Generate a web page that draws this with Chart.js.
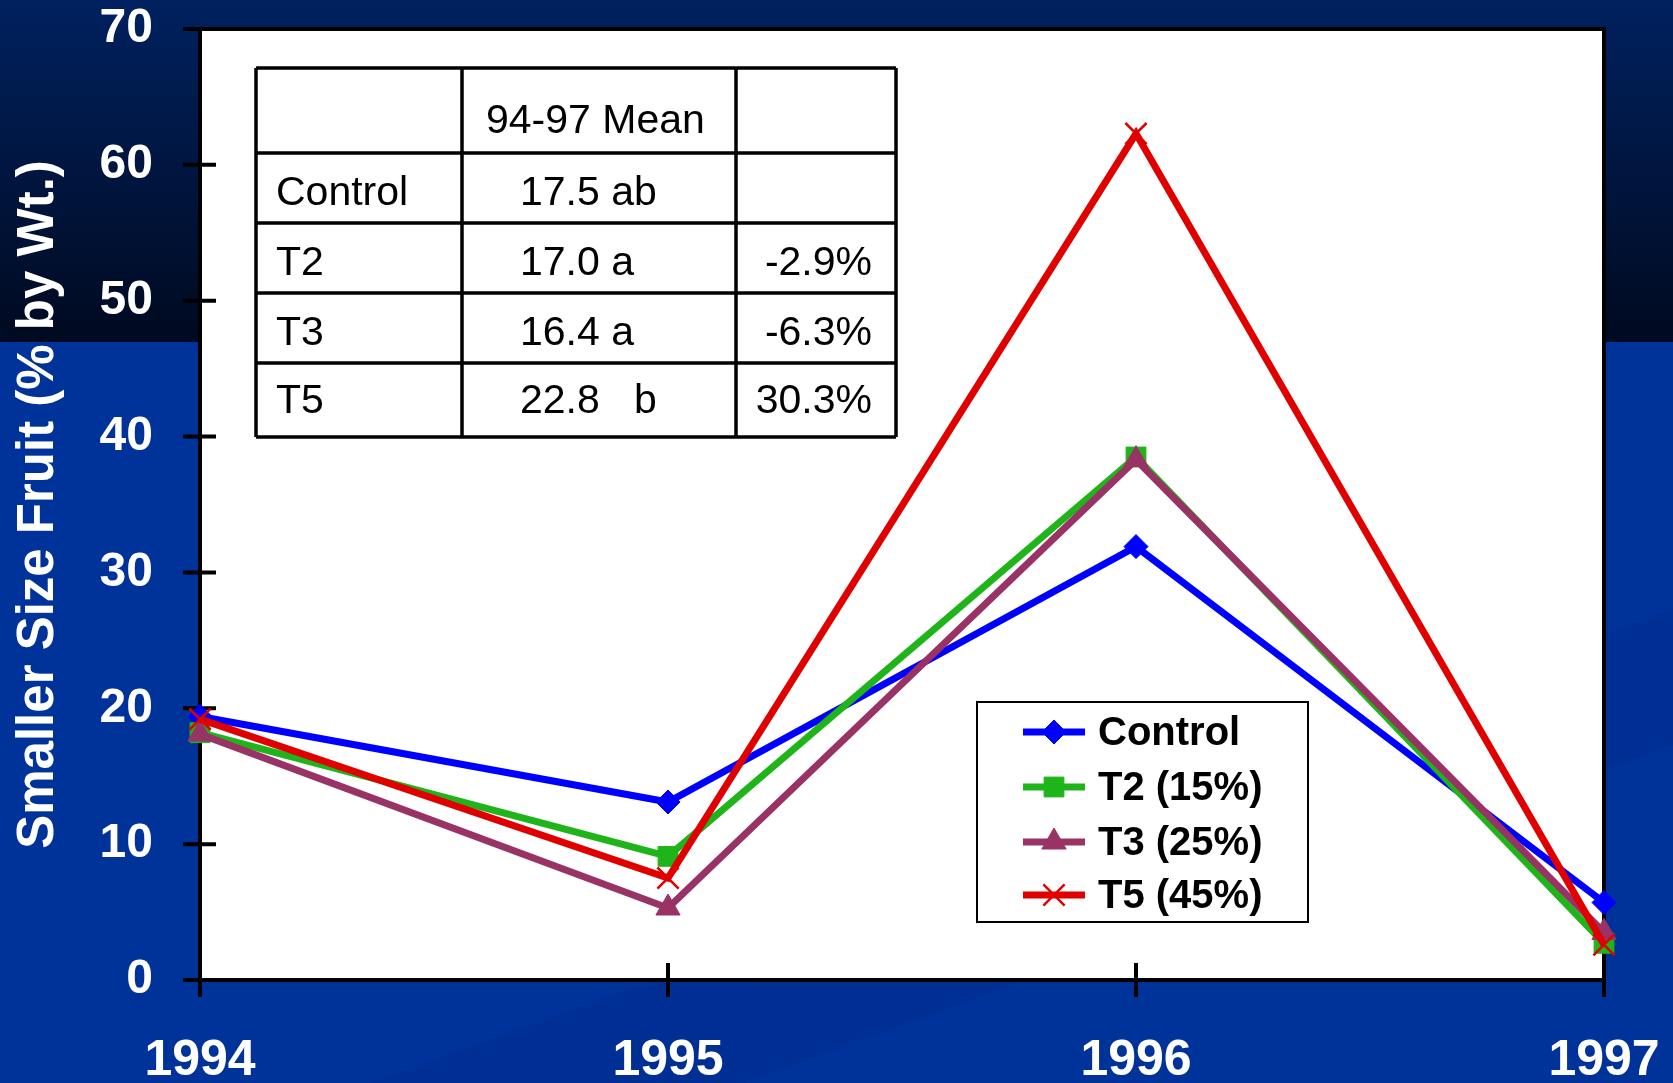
<!DOCTYPE html>
<html>
<head>
<meta charset="utf-8">
<title>Smaller Size Fruit</title>
<script src="https://cdn.jsdelivr.net/npm/chart.js@4.4.0/dist/chart.umd.min.js"></script>
<style>
  html, body { margin: 0; padding: 0; }
  body {
    width: 1673px;
    height: 1083px;
    overflow: hidden;
    background:
      linear-gradient(to bottom, #00215f 0px, #000a20 342px, transparent 342px),
      linear-gradient(160deg, transparent 72%, rgba(0, 40, 140, 0.35) 72%, rgba(0, 40, 140, 0.35) 80%, transparent 80%),
      #003399;
  }
  #wrap { position: relative; width: 1673px; height: 1083px; }
</style>
</head>
<body>
<div id="wrap"><canvas id="fruitChart" width="1673" height="1083"></canvas></div>
<script>
(function() {
  'use strict';

  // Chart data
  const years = ['1994', '1995', '1996', '1997'];
  const controlValues = [19.4, 13.1, 31.9, 5.7];
  const t2Values = [18.2, 9.1, 38.5, 2.7];
  const t3Values = [18.1, 5.3, 38.3, 3.5];
  const t5Values = [19.2, 7.5, 62.3, 2.6];
  const legendLabels = ['Control', 'T2 (15%)', 'T3 (25%)', 'T5 (45%)'];

  // Inset table
  const tableHeader = ['', '94-97 Mean', ''];
  const tableNames = ['Control', 'T2', 'T3', 'T5'];
  const tableMeans = ['17.5 ab', '17.0 a', '16.4 a', '22.8   b'];
  const tableChanges = ['', '-2.9%', '-6.3%', '30.3%'];

  const FONT = '"Liberation Sans", Arial, sans-serif';

  // Plot background, frame and crossing tick marks
  const framePlugin = {
    id: 'frame',
    beforeDraw(chart) {
      const { ctx, chartArea: a } = chart;
      ctx.save();
      ctx.fillStyle = '#ffffff';
      ctx.fillRect(a.left, a.top, a.right - a.left, a.bottom - a.top);
      ctx.restore();
    },
    beforeDatasetsDraw(chart) {
      const { ctx, chartArea: a, scales } = chart;
      ctx.save();
      ctx.strokeStyle = '#000';
      ctx.lineWidth = 4;
      ctx.strokeRect(a.left, a.top, a.right - a.left, a.bottom - a.top);
      ctx.beginPath();
      scales.y.ticks.forEach(t => {
        const y = scales.y.getPixelForValue(t.value);
        ctx.moveTo(a.left - 17, y);
        ctx.lineTo(a.left + 16, y);
      });
      years.forEach((_, i) => {
        const x = scales.x.getPixelForValue(i);
        ctx.moveTo(x, a.bottom - 17);
        ctx.lineTo(x, a.bottom + 17);
      });
      ctx.stroke();
      ctx.restore();
    }
  };

  // Mean table in the upper left
  const tablePlugin = {
    id: 'meanTable',
    afterDatasetsDraw(chart) {
      const ctx = chart.ctx;
      const cols = [256, 462, 736, 896];
      const rows = [68, 153, 223, 293, 363, 437];
      const baselines = [205, 275, 345, 413];

      ctx.save();
      ctx.fillStyle = '#fff';
      ctx.fillRect(cols[0], rows[0], cols[3] - cols[0], rows[5] - rows[0]);
      ctx.strokeStyle = '#000';
      ctx.lineWidth = 3.5;
      ctx.beginPath();
      cols.forEach(x => { ctx.moveTo(x, rows[0]); ctx.lineTo(x, rows[5]); });
      rows.forEach(y => { ctx.moveTo(cols[0], y); ctx.lineTo(cols[3], y); });
      ctx.stroke();

      ctx.fillStyle = '#000';
      ctx.font = '41px ' + FONT;
      ctx.textBaseline = 'alphabetic';
      ctx.textAlign = 'left';
      ctx.fillText(tableHeader[1], 486, 133);
      tableNames.forEach((name, i) => {
        ctx.textAlign = 'left';
        ctx.fillText(name, 276, baselines[i]);
        ctx.fillText(tableMeans[i], 520, baselines[i]);
        ctx.textAlign = 'right';
        ctx.fillText(tableChanges[i], 872, baselines[i]);
      });
      ctx.restore();
    }
  };

  // Boxed legend with line + marker samples
  const legendPlugin = {
    id: 'boxLegend',
    afterDraw(chart) {
      const ctx = chart.ctx;
      const box = { left: 977, top: 702, right: 1308, bottom: 922 };
      const rowY = [732, 787, 842, 895];

      ctx.save();
      ctx.fillStyle = '#fff';
      ctx.fillRect(box.left, box.top, box.right - box.left, box.bottom - box.top);
      ctx.strokeStyle = '#000';
      ctx.lineWidth = 2;
      ctx.strokeRect(box.left, box.top, box.right - box.left, box.bottom - box.top);

      chart.data.datasets.forEach((ds, i) => {
        const y = rowY[i];
        ctx.strokeStyle = ds.borderColor;
        ctx.lineWidth = ds.borderWidth;
        ctx.beginPath();
        ctx.moveTo(1023, y);
        ctx.lineTo(1085, y);
        ctx.stroke();

        ctx.fillStyle = ds.pointBackgroundColor;
        ctx.strokeStyle = ds.pointBorderColor;
        ctx.lineWidth = ds.pointBorderWidth;
        Chart.helpers.drawPoint(ctx, {
          pointStyle: ds.pointStyle,
          radius: ds.pointRadius,
          borderWidth: ds.pointBorderWidth,
          rotation: 0
        }, 1054, y);

        ctx.fillStyle = '#000';
        ctx.font = 'bold 40px ' + FONT;
        ctx.textAlign = 'left';
        ctx.textBaseline = 'middle';
        ctx.fillText(legendLabels[i], 1098, y + 2);
      });
      ctx.restore();
    }
  };

  function series(label, data, color, style, radius, order) {
    return {
      label: label,
      data: data,
      borderColor: color,
      backgroundColor: color,
      borderWidth: 7,
      pointStyle: style,
      pointRadius: radius,
      pointHoverRadius: radius,
      pointBackgroundColor: color,
      pointBorderColor: color,
      pointBorderWidth: style === 'crossRot' ? 2.5 : 1,
      tension: 0,
      clip: false,
      order: order
    };
  }

  // Keep tick labels from shrinking the plot area
  function noLabelPadding(scale) {
    scale.paddingTop = 0;
    scale.paddingBottom = 0;
    scale.paddingLeft = 0;
    scale.paddingRight = 0;
  }

  function init() {
    const ctx = document.getElementById('fruitChart');
    Chart.defaults.font.family = FONT;

    new Chart(ctx, {
      type: 'line',
      data: {
        labels: years,
        datasets: [
          series('Control', controlValues, '#0000ff', 'rectRot', 12, 3),
          series('T2 (15%)', t2Values, '#1fb51a', 'rect', 14, 2),
          series('T3 (25%)', t3Values, '#993366', 'triangle', 14, 1),
          series('T5 (45%)', t5Values, '#e00000', 'crossRot', 15, 0)
        ]
      },
      options: {
        responsive: false,
        animation: false,
        devicePixelRatio: 1,
        layout: { padding: { top: 29, right: 69, left: 0, bottom: 0 } },
        plugins: {
          legend: { display: false },
          tooltip: { enabled: false }
        },
        scales: {
          x: {
            type: 'category',
            offset: false,
            grid: { display: false, drawTicks: false },
            border: { display: false },
            ticks: {
              color: '#ffffff',
              font: { size: 50, weight: 'bold' },
              padding: 51,
              maxRotation: 0,
              autoSkip: false
            },
            afterFit(scale) {
              scale.height = 103;
              noLabelPadding(scale);
            }
          },
          y: {
            min: 0,
            max: 70,
            grid: { display: false, drawTicks: false },
            border: { display: false },
            ticks: {
              stepSize: 10,
              color: '#ffffff',
              font: { size: 48, weight: 'bold' },
              padding: 47
            },
            title: {
              display: true,
              text: 'Smaller Size Fruit (% by Wt.)',
              color: '#ffffff',
              font: { size: 51, weight: 'bold', lineHeight: 1.2 },
              padding: { top: 8, bottom: 0 }
            },
            afterFit(scale) {
              scale.width = 200;
              noLabelPadding(scale);
            }
          }
        }
      },
      plugins: [framePlugin, tablePlugin, legendPlugin]
    });
  }

  if (document.readyState === 'loading') {
    document.addEventListener('DOMContentLoaded', init);
  } else {
    init();
  }
})();
</script>
</body>
</html>
